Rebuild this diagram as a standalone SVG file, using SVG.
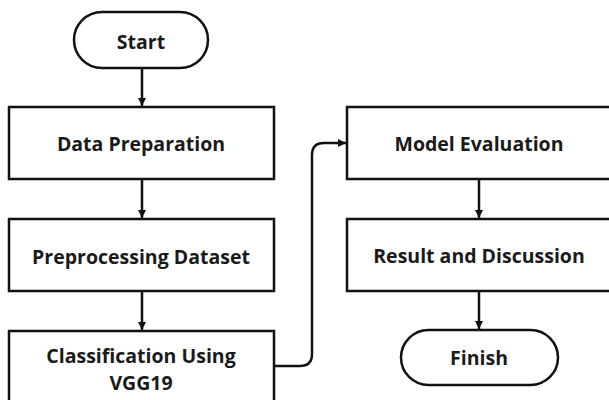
<svg xmlns="http://www.w3.org/2000/svg" width="609" height="400" viewBox="0 0 609 400">
<defs>
<marker id="ah" markerWidth="10" markerHeight="10" refX="9" refY="5" orient="auto" markerUnits="userSpaceOnUse">
<path d="M1,1 L9,5 L1,9 Z" fill="#111"/>
</marker>
<style>
.box{fill:#fff;stroke:#111;stroke-width:2.5}
.t{font-family:"Open Sans","Noto Sans",sans-serif;font-weight:bold;font-size:19.5px;fill:#1a1a1a;text-anchor:middle;dominant-baseline:central}
.c{fill:none;stroke:#111;stroke-width:2.5}
</style>
</defs>
<rect width="609" height="400" fill="#fff"/>
<g id="connectors">
<path class="c" d="M142,68 V106" marker-end="url(#ah)"/>
<path class="c" d="M142,179 V218" marker-end="url(#ah)"/>
<path class="c" d="M142,291 V330" marker-end="url(#ah)"/>
<path class="c" d="M274,366 H300 Q312,366 312,354 V155 Q312,143 324,143 H346" marker-end="url(#ah)"/>
<path class="c" d="M479,179 V218" marker-end="url(#ah)"/>
<path class="c" d="M479,291 V329" marker-end="url(#ah)"/>
</g>
<g id="start">
<rect class="box" x="74" y="12" width="134" height="56" rx="28"/>
<text class="t" x="141" y="41">Start</text>
</g>
<g id="data-preparation">
<rect class="box" x="9" y="107" width="265" height="72"/>
<text class="t" x="141" y="143">Data Preparation</text>
</g>
<g id="preprocessing">
<rect class="box" x="9" y="219" width="265" height="72"/>
<text class="t" x="141" y="256">Preprocessing Dataset</text>
</g>
<g id="classification">
<rect class="box" x="9" y="331" width="265" height="74"/>
<text class="t" x="141" y="355">Classification Using</text>
<text class="t" x="141" y="382">VGG19</text>
</g>
<g id="model-evaluation">
<rect class="box" x="347" y="107" width="265" height="72"/>
<text class="t" x="479" y="143">Model Evaluation</text>
</g>
<g id="result">
<rect class="box" x="347" y="219" width="265" height="72"/>
<text class="t" x="479" y="255">Result and Discussion</text>
</g>
<g id="finish">
<rect class="box" x="401" y="330" width="157" height="55" rx="27.5"/>
<text class="t" x="479" y="357">Finish</text>
</g>
</svg>
